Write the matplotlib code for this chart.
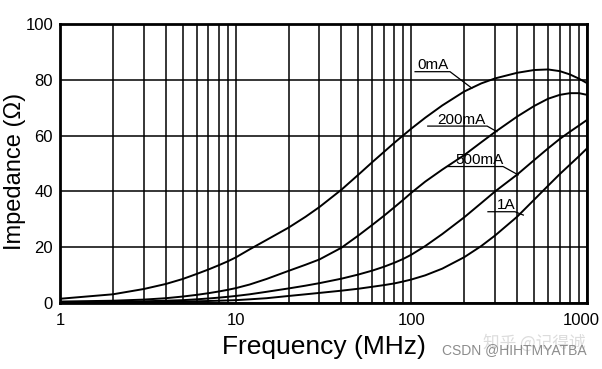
import numpy as np
import matplotlib.pyplot as plt
from matplotlib.ticker import FixedLocator, NullFormatter
from matplotlib.transforms import ScaledTranslation

# values
freq = [1, 2, 3, 4, 5, 6, 7, 8, 9, 10, 12, 15, 20, 25, 30, 40, 50, 60, 70, 80, 90,
        100, 120, 150, 200, 250, 300, 400, 500, 600, 700, 800, 900, 1000]
z_0mA = [1.5, 3.1, 5.0, 6.8, 8.6, 10.4, 12.0, 13.5, 14.9, 16.3, 19.2, 22.6, 27.0,
         30.9, 34.4, 40.6, 46.0, 50.5, 54.2, 57.4, 60.1, 62.5, 66.4, 70.8, 75.8,
         78.7, 80.5, 82.5, 83.5, 83.7, 83.1, 81.9, 80.4, 78.8]
z_200mA = [0.5, 0.8, 1.2, 1.7, 2.3, 2.9, 3.5, 4.1, 4.7, 5.3, 6.6, 8.6, 11.5,
           13.7, 15.6, 19.8, 24.2, 28.0, 31.3, 34.3, 37.0, 39.5, 43.5, 47.8, 53.0,
           57.6, 61.3, 66.8, 70.6, 73.2, 74.6, 75.2, 75.2, 74.6]
z_500mA = [0.2, 0.4, 0.6, 0.8, 1.0, 1.3, 1.6, 1.9, 2.2, 2.5, 3.1, 4.0, 5.2,
           6.2, 7.1, 8.7, 10.2, 11.6, 13.0, 14.4, 15.8, 17.3, 20.4, 24.7, 30.7,
           35.8, 40.0, 46.0, 51.2, 55.4, 58.8, 61.4, 63.6, 65.6]
z_1A = [0.1, 0.2, 0.3, 0.4, 0.5, 0.6, 0.7, 0.8, 0.9, 1.0, 1.3, 1.7, 2.5,
        3.1, 3.6, 4.4, 5.1, 5.8, 6.4, 7.0, 7.7, 8.4, 9.9, 12.3, 16.4,
        20.4, 24.2, 30.9, 37.0, 42.0, 46.2, 49.6, 52.6, 55.4]

labels = ['0mA', '200mA', '500mA', '1A']
text_x = [108, 140, 177, 307]
# underline start / end x, underline y, leader end (x, y)
lab_x0 = [105, 124, 162, 273]
lab_x1 = [166, 270, 333, 389]
lab_y = [82.9, 63.4, 48.9, 32.7]
lead_x = [221, 307, 406, 434]
lead_y = [77.0, 61.4, 45.9, 31.5]

plt.rcParams['font.family'] = ['Liberation Sans', 'DejaVu Sans']

fig = plt.figure(figsize=(6.02, 3.69), dpi=100)
ax = fig.add_axes([0.0997, 0.179, 0.8754, 0.756])

for z in [z_0mA, z_200mA, z_500mA, z_1A]:
    ax.plot(freq, z, color='black', lw=1.4, zorder=3)

for i in range(4):
    ax.plot([lab_x0[i], lab_x1[i], lead_x[i]], [lab_y[i], lab_y[i], lead_y[i]],
            color='black', lw=0.9, zorder=3)
    ax.text(text_x[i], lab_y[i] + 0.8, labels[i], fontsize=11,
            ha='left', va='baseline', zorder=4)

ax.set_xscale('log')
ax.set_xlim(1, 1000)
ax.set_ylim(0, 100)
ax.xaxis.set_major_locator(FixedLocator([1, 10, 100, 1000]))
ax.set_xticklabels(['1', '10', '100', '1000'])
minors = [m * d for d in [1, 10, 100] for m in range(2, 10)]
ax.xaxis.set_minor_locator(FixedLocator(minors))
ax.xaxis.set_minor_formatter(NullFormatter())
ax.set_yticks([0, 20, 40, 60, 80, 100])

ax.grid(True, which='both', axis='x', color='black', lw=1.1)
ax.grid(True, which='major', axis='y', color='black', lw=1.1)
ax.tick_params(which='both', length=0, labelsize=12)
ax.tick_params(axis='x', pad=7)
ax.tick_params(axis='y', pad=5)
for s in ax.spines.values():
    s.set_linewidth(2)

# last x tick label sits a bit left of its gridline in the reference
last = ax.get_xticklabels()[-1]
last.set_transform(last.get_transform() + ScaledTranslation(-0.06, 0, fig.dpi_scale_trans))

ax.set_xlabel('Frequency (MHz)', fontsize=19)
ax.xaxis.set_label_coords(0.50, -0.115)
ax.set_ylabel('Impedance (Ω)', fontsize=17)
ax.yaxis.set_label_coords(-0.065, 0.47)

fig.text(0.887, 0.07, '知乎 @记得诚', fontsize=12, color='#dcdcdc',
         ha='center', va='center', family=['Noto Sans CJK SC', 'DejaVu Sans'])
fig.text(0.975, 0.052, 'CSDN @HIHTMYATBA', fontsize=10, color='#8c8c8c',
         ha='right', va='center')

fig.savefig('out.png', dpi=100)
